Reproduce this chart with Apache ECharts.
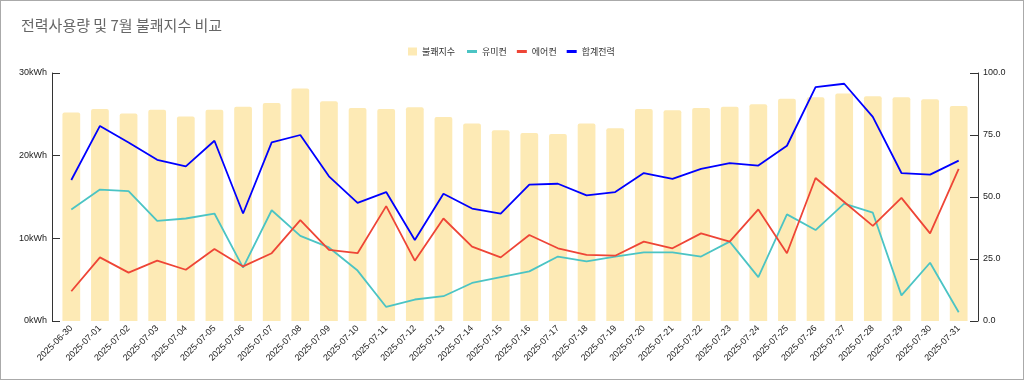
<!DOCTYPE html>
<html><head><meta charset="utf-8">
<script src="https://cdn.jsdelivr.net/npm/echarts@6/dist/echarts.min.js"></script>
<style>
html,body{margin:0;padding:0;background:#fff;}
#wrap{width:1024px;height:380px;box-sizing:border-box;border:1px solid #aaa;}
#c{width:1022px;height:378px;}
</style></head>
<body><div id="wrap"><div id="c"></div></div>
<script>
const categories = ['2025-06-30','2025-07-01','2025-07-02','2025-07-03','2025-07-04','2025-07-05','2025-07-06','2025-07-07','2025-07-08','2025-07-09','2025-07-10','2025-07-11','2025-07-12','2025-07-13','2025-07-14','2025-07-15','2025-07-16','2025-07-17','2025-07-18','2025-07-19','2025-07-20','2025-07-21','2025-07-22','2025-07-23','2025-07-24','2025-07-25','2025-07-26','2025-07-27','2025-07-28','2025-07-29','2025-07-30','2025-07-31'];
const discomfort = [84.1,85.5,83.7,85.2,82.5,85.2,86.4,87.9,93.8,88.6,85.9,85.5,86.2,82.3,79.6,76.9,75.8,75.4,79.6,77.7,85.5,85.0,85.9,86.4,87.4,89.6,90.2,91.7,90.6,90.2,89.4,86.7];
const dehumidifier = [13.5,15.9,15.7,12.1,12.4,13.0,6.45,13.4,10.3,8.9,6.1,1.7,2.6,3.0,4.6,5.3,6.0,7.8,7.2,7.8,8.3,8.3,7.8,9.6,5.3,12.9,11.0,14.2,13.1,3.1,7.05,1.05];
const aircon = [3.6,7.7,5.85,7.3,6.2,8.7,6.6,8.2,12.2,8.6,8.2,13.9,7.3,12.4,9.0,7.7,10.4,8.8,8.0,7.9,9.6,8.8,10.6,9.6,13.5,8.2,17.3,14.4,11.5,14.9,10.6,18.4];
const total = [17.06,23.6,21.6,19.5,18.7,21.8,13.0,21.6,22.5,17.5,14.3,15.6,9.8,15.4,13.6,13.0,16.5,16.6,15.2,15.6,17.9,17.2,18.4,19.1,18.8,21.2,28.3,28.7,24.7,17.9,17.7,19.4];
const seriesNames = ['불쾌지수','유미컨','에어컨','합계전력'];
const titleText = '전력사용량 및 7월 불쾌지수 비교';

const chart = echarts.init(document.getElementById('c'));
const font = 'Liberation Sans, Arial, "Noto Sans CJK KR", sans-serif';
const legendText = {fontSize:9,color:'#333',fontFamily:'"Noto Sans CJK KR", sans-serif'};
chart.setOption({
  animation:false,
  textStyle:{fontFamily:font},
  title:{text:titleText,left:15,top:12,textStyle:{fontSize:15,fontWeight:'normal',color:'#666',fontFamily:'"Noto Sans CJK KR", sans-serif'}},
  legend:[
    {top:41,left:402,itemWidth:9,itemHeight:8,textStyle:legendText,
      data:[{name:seriesNames[0],icon:'rect'}]},
    {top:41,left:461,itemWidth:10,itemHeight:3,itemGap:10,textStyle:legendText,
      data:[{name:seriesNames[1],icon:'rect'},{name:seriesNames[2],icon:'rect'},{name:seriesNames[3],icon:'rect'}]}
  ],
  grid:{left:56,right:50,top:72,bottom:58},
  xAxis:{type:'category',data:categories,boundaryGap:true,
    axisLine:{show:false},axisTick:{show:false},
    axisLabel:{rotate:45,fontSize:9,color:'#222',interval:0,margin:6}},
  yAxis:[
    {type:'value',min:0,max:30,interval:10,offset:5,splitLine:{show:false},
      axisLine:{show:true,lineStyle:{color:'#333'}},
      axisTick:{show:true,inside:true,length:8,lineStyle:{color:'#333'}},
      axisLabel:{formatter:'{value}kWh',fontSize:9,color:'#222',margin:5}},
    {type:'value',min:0,max:100,interval:25,offset:5,splitLine:{show:false},
      axisLine:{show:true,lineStyle:{color:'#333'}},
      axisTick:{show:true,inside:true,length:8,lineStyle:{color:'#333'}},
      axisLabel:{formatter:v=>v.toFixed(1),fontSize:9,color:'#222',margin:5}}
  ],
  series:[
    {name:seriesNames[0],type:'bar',yAxisIndex:1,data:discomfort,barWidth:'62%',
      itemStyle:{color:'#FDEAB5',borderRadius:[2,2,0,0]}},
    {name:seriesNames[1],type:'line',yAxisIndex:0,data:dehumidifier,symbol:'none',
      lineStyle:{width:1.8,color:'#4BC4C4'},itemStyle:{color:'#4BC4C4'}},
    {name:seriesNames[2],type:'line',yAxisIndex:0,data:aircon,symbol:'none',
      lineStyle:{width:1.8,color:'#EE4536'},itemStyle:{color:'#EE4536'}},
    {name:seriesNames[3],type:'line',yAxisIndex:0,data:total,symbol:'none',
      lineStyle:{width:1.8,color:'#0000FF'},itemStyle:{color:'#0000FF'}}
  ]
});
</script></body></html>
